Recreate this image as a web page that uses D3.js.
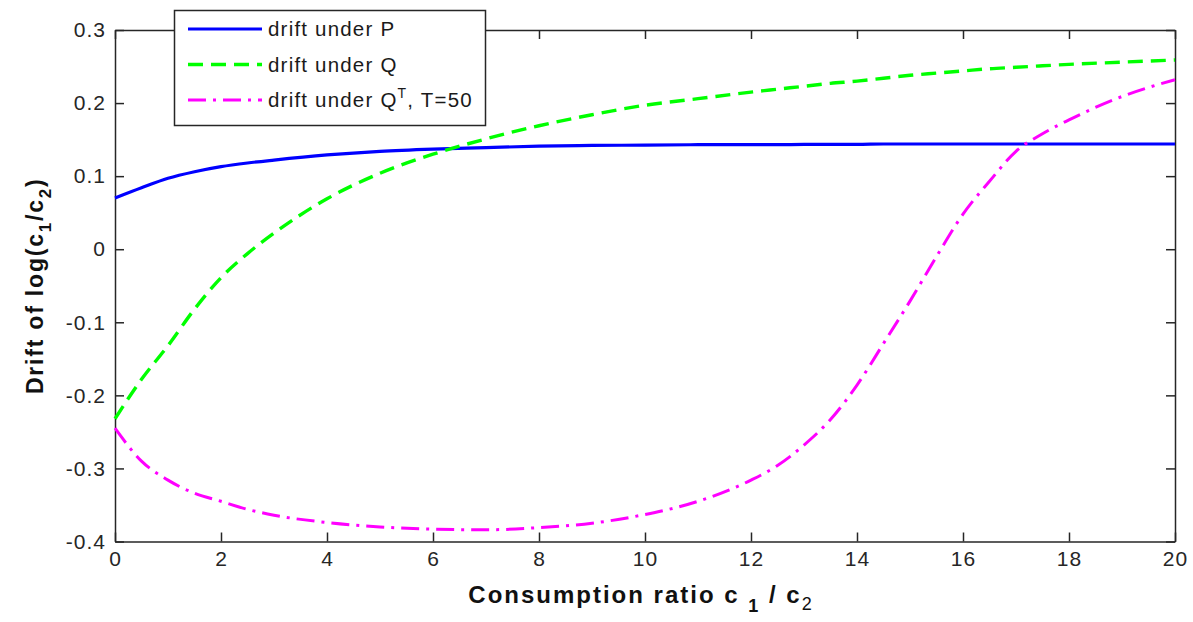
<!DOCTYPE html>
<html>
<head>
<meta charset="utf-8">
<script src="https://cdn.jsdelivr.net/npm/d3@7"></script>
<style>
  body { margin: 0; background: #fff; }
  svg { display: block; font-family: Arial, "Liberation Sans", Helvetica, sans-serif; }
</style>
</head>
<body>
<div id="chart"></div>
<script>
// consumption ratio c1/c2 (shared grid for all three curves)
const ratio = [0, 0.5, 1, 1.5, 2, 2.5, 3, 4, 5, 6, 7, 8, 9, 10, 11, 12, 12.5, 13, 13.5, 14, 14.5, 15, 15.5, 16, 16.5, 17, 17.5, 18, 19, 20];

// drift of log(c1/c2)
const driftP = [0.070, 0.084, 0.097, 0.106, 0.113, 0.118, 0.122, 0.129, 0.134, 0.137, 0.139, 0.141, 0.142, 0.1425, 0.143, 0.143, 0.143, 0.1435, 0.1435, 0.1435, 0.144, 0.144, 0.144, 0.144, 0.144, 0.144, 0.144, 0.144, 0.144, 0.144];
const driftQ = [-0.232, -0.178, -0.132, -0.082, -0.039, -0.006, 0.022, 0.069, 0.104, 0.130, 0.151, 0.169, 0.184, 0.197, 0.206, 0.215, 0.219, 0.223, 0.227, 0.230, 0.234, 0.238, 0.241, 0.244, 0.247, 0.249, 0.251, 0.253, 0.256, 0.259];
const driftQT = [-0.245, -0.290, -0.316, -0.334, -0.345, -0.356, -0.364, -0.374, -0.380, -0.383, -0.384, -0.381, -0.375, -0.363, -0.345, -0.316, -0.296, -0.268, -0.233, -0.186, -0.129, -0.071, -0.010, 0.048, 0.093, 0.134, 0.158, 0.177, 0.209, 0.232];

const xTicks = [0, 2, 4, 6, 8, 10, 12, 14, 16, 18, 20];
const yTicks = [-0.4, -0.3, -0.2, -0.1, 0, 0.1, 0.2, 0.3];

const W = 1193, H = 622;
const plot = { left: 115, right: 1175, top: 30, bottom: 541.5 };

const svg = d3.select("#chart").append("svg")
    .attr("width", W)
    .attr("height", H);

const x = d3.scaleLinear().domain([0, 20]).range([plot.left, plot.right]);
const y = d3.scaleLinear().domain([-0.4, 0.3]).range([plot.bottom, plot.top]);

const fmt = d => String(Math.round(d * 10) / 10);

// axes (MATLAB style: box on, ticks pointing inwards)
function styleAxis(g) {
    g.selectAll(".domain").attr("stroke", "#262626").attr("stroke-width", 1.5);
    g.selectAll(".tick line").attr("stroke", "#262626").attr("stroke-width", 1.5);
    g.selectAll(".tick text")
        .attr("fill", "#262626")
        .style("font-size", "21px")
        .style("letter-spacing", "1px");
}

svg.append("g")
    .attr("transform", `translate(0,${plot.bottom})`)
    .call(d3.axisBottom(x).tickValues(xTicks).tickSizeInner(-9).tickSizeOuter(0).tickPadding(10).tickFormat(fmt))
    .call(styleAxis);

svg.append("g")
    .attr("transform", `translate(0,${plot.top})`)
    .call(d3.axisTop(x).tickValues(xTicks).tickSizeInner(-9).tickSizeOuter(0).tickFormat(""))
    .call(styleAxis);

svg.append("g")
    .attr("transform", `translate(${plot.left},0)`)
    .call(d3.axisLeft(y).tickValues(yTicks).tickSizeInner(-9).tickSizeOuter(0).tickPadding(9).tickFormat(fmt))
    .call(styleAxis);

svg.append("g")
    .attr("transform", `translate(${plot.right},0)`)
    .call(d3.axisRight(y).tickValues(yTicks).tickSizeInner(-9).tickSizeOuter(0).tickFormat(""))
    .call(styleAxis);

// curves
const series = [
    { name: "P", values: driftP, color: "#0000ff", width: 3.2, dash: null },
    { name: "Q", values: driftQ, color: "#00ff00", width: 3.4, dash: "15,8" },
    { name: "QT", values: driftQT, color: "#ff00ff", width: 3, dash: "18,7,3,7" }
];

const line = d3.line()
    .x(d => x(d[0]))
    .y(d => y(d[1]))
    .curve(d3.curveMonotoneX);

svg.append("g").selectAll("path")
    .data(series)
    .join("path")
    .attr("d", s => line(ratio.map((r, i) => [r, s.values[i]])))
    .attr("fill", "none")
    .attr("stroke", s => s.color)
    .attr("stroke-width", s => s.width)
    .attr("stroke-dasharray", s => s.dash);

// axis labels
const xLabel = svg.append("text")
    .attr("x", (plot.left + plot.right) / 2 - 4)
    .attr("y", 603)
    .attr("text-anchor", "middle")
    .style("font-size", "24px")
    .style("font-weight", "bold")
    .style("letter-spacing", "2px")
    .attr("fill", "#111");
xLabel.append("tspan").text("Consumption ratio c ");
xLabel.append("tspan").attr("dy", 9).style("font-size", "18px").text("1");
xLabel.append("tspan").attr("dy", -9).text(" / c");
xLabel.append("tspan").attr("dy", 7).style("font-size", "18px").style("font-weight", "normal").text("2");

const yLabel = svg.append("text")
    .attr("transform", `translate(43,${(plot.top + plot.bottom) / 2}) rotate(-90)`)
    .attr("text-anchor", "middle")
    .style("font-size", "23px")
    .style("font-weight", "bold")
    .style("letter-spacing", "1.8px")
    .attr("fill", "#111");
yLabel.append("tspan").text("Drift of log(c");
yLabel.append("tspan").attr("dy", 8).style("font-size", "17px").text("1");
yLabel.append("tspan").attr("dy", -8).text("/c");
yLabel.append("tspan").attr("dy", 8).style("font-size", "17px").text("2");
yLabel.append("tspan").attr("dy", -8).text(")");

// legend
const legend = svg.append("g");
legend.append("rect")
    .attr("x", 174.5).attr("y", 10.5)
    .attr("width", 311).attr("height", 115)
    .attr("fill", "#fff")
    .attr("stroke", "#262626")
    .attr("stroke-width", 1.5);

const rows = legend.selectAll("g.row")
    .data(series)
    .join("g")
    .attr("class", "row")
    .attr("transform", (d, i) => `translate(0,${29 + i * 35.5})`);

rows.append("line")
    .attr("x1", 188).attr("x2", 262)
    .attr("stroke", d => d.color)
    .attr("stroke-width", d => d.width)
    .attr("stroke-dasharray", d => d.dash);

const labels = rows.append("text")
    .attr("x", 268)
    .attr("y", 7)
    .style("font-size", "20.5px")
    .style("letter-spacing", "1.2px")
    .attr("fill", "#1a1a1a");

labels.each(function(d) {
    const t = d3.select(this);
    if (d.name === "QT") {
        t.append("tspan").text("drift under Q");
        t.append("tspan").attr("dy", -9).style("font-size", "14px").text("T");
        t.append("tspan").attr("dy", 9).text(", T=50");
    } else {
        t.text("drift under " + d.name);
    }
});
</script>
</body>
</html>
